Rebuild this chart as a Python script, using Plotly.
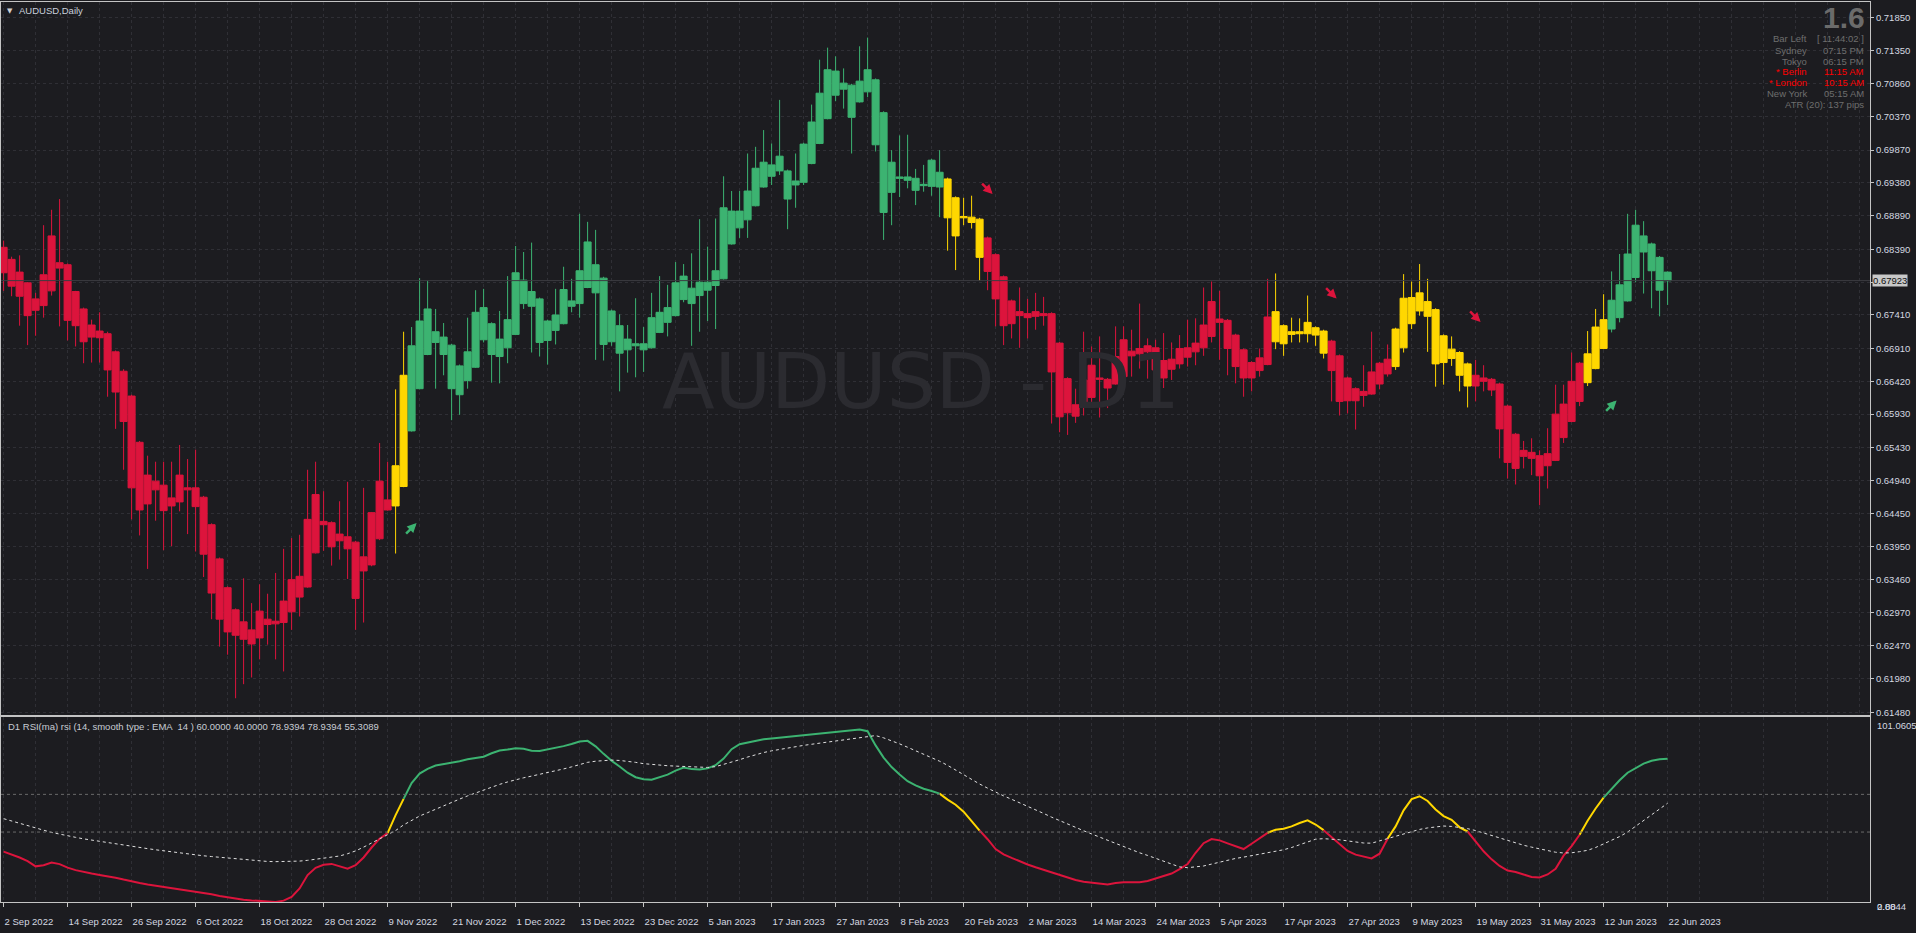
import plotly.graph_objects as go

# ---------------- data ----------------
open_ = [0.6842,0.6824,0.6805,0.6789,0.6748,0.6755,0.6777,0.6819,0.6816,0.6776,
 0.6750,0.6708,0.6717,0.6713,0.6686,0.6657,0.6620,0.6551,0.6459,0.6493,
 0.6487,0.6456,0.6462,0.6483,0.6483,0.6469,0.6428,0.6377,0.6334,0.6301,
 0.6257,0.6271,0.6259,0.6287,0.6280,0.6282,0.6298,0.6351,0.6335,0.6386,
 0.6433,0.6431,0.6404,0.6410,0.6402,0.6359,0.6368,0.6407,0.6465,0.6456,
 0.6485,0.6568,0.6631,0.6682,0.6716,0.6682,0.6696,0.6622,0.6686,0.6663,
 0.6704,0.6728,0.6679,0.6692,0.6712,0.6793,0.6754,0.6765,0.6703,0.6718,
 0.6728,0.6762,0.6758,0.6782,0.6816,0.6796,0.6701,0.6725,0.6689,0.6698,
 0.6689,0.6692,0.6715,0.6752,0.6740,0.6764,0.6781,0.6770,0.6790,0.6785,
 0.6795,0.6896,0.6871,0.6883,0.6904,0.6932,0.6965,0.6956,0.6956,0.6935,
 0.6939,0.6967,0.6997,0.7034,0.7105,0.7078,0.7084,0.7059,0.7074,0.7092,
 0.7043,0.6924,0.6947,0.6947,0.6945,0.6934,0.6933,0.6954,0.6944,0.6916,
 0.6886,0.6887,0.6884,0.6856,0.6831,0.6798,0.6728,0.6746,0.6743,0.6739,
 0.6743,0.6743,0.6699,0.6595,0.6607,0.6607,0.6618,0.6647,0.6645,0.6638,
 0.6649,0.6687,0.6683,0.6686,0.6692,0.6647,0.6660,0.6668,0.6678,0.6686,
 0.6692,0.6709,0.6735,0.6733,0.6711,0.6689,0.6647,0.6677,0.6667,0.6701,
 0.6725,0.6712,0.6716,0.6713,0.6722,0.6717,0.6702,0.6680,0.6613,0.6631,
 0.6621,0.6623,0.6638,0.6653,0.6664,0.6692,0.6767,0.6747,0.6761,0.6749,
 0.6670,0.6690,0.6685,0.6668,0.6635,0.6647,0.6645,0.6638,0.6605,0.6563,
 0.6530,0.6536,0.6531,0.6516,0.6524,0.6558,0.6582,0.6612,0.6640,0.6661,
 0.6691,0.6720,0.6737,0.6762,0.6797,0.6859,0.6847,0.6827,0.6805]

high = [0.6852,0.6828,0.6830,0.6790,0.6774,0.6875,0.6898,0.6914,0.6818,0.6777,
 0.6752,0.6734,0.6745,0.6716,0.6688,0.6660,0.6622,0.6553,0.6531,0.6522,
 0.6522,0.6522,0.6547,0.6526,0.6540,0.6471,0.6430,0.6379,0.6336,0.6303,
 0.6348,0.6311,0.6339,0.6325,0.6356,0.6392,0.6408,0.6413,0.6510,0.6522,
 0.6478,0.6433,0.6463,0.6492,0.6404,0.6483,0.6447,0.6550,0.6522,0.6630,
 0.6716,0.6723,0.6796,0.6792,0.6750,0.6729,0.6698,0.6667,0.6737,0.6778,
 0.6780,0.6730,0.6747,0.6799,0.6844,0.6835,0.6849,0.6767,0.6734,0.6780,
 0.6813,0.6795,0.6892,0.6880,0.6868,0.6798,0.6749,0.6742,0.6726,0.6766,
 0.6723,0.6774,0.6799,0.6786,0.6820,0.6817,0.6833,0.6884,0.6843,0.6885,
 0.6948,0.6926,0.6926,0.6982,0.6992,0.7017,0.6997,0.7062,0.6958,0.6982,
 0.6998,0.7055,0.7122,0.7140,0.7127,0.7109,0.7086,0.7142,0.7155,0.7094,
 0.7045,0.6987,0.7009,0.7010,0.6959,0.6965,0.6974,0.6987,0.6946,0.6918,
 0.6916,0.6919,0.6886,0.6858,0.6833,0.6800,0.6764,0.6782,0.6765,0.6774,
 0.6768,0.6745,0.6701,0.6648,0.6631,0.6716,0.6694,0.6709,0.6647,0.6724,
 0.6724,0.6719,0.6758,0.6706,0.6704,0.6714,0.6700,0.6711,0.6734,0.6736,
 0.6782,0.6791,0.6777,0.6735,0.6713,0.6691,0.6672,0.6691,0.6795,0.6803,
 0.6727,0.6737,0.6736,0.6770,0.6724,0.6719,0.6704,0.6682,0.6649,0.6633,
 0.6666,0.6716,0.6671,0.6697,0.6722,0.6802,0.6791,0.6817,0.6795,0.6751,
 0.6712,0.6709,0.6687,0.6670,0.6674,0.6666,0.6647,0.6640,0.6607,0.6565,
 0.6553,0.6557,0.6539,0.6572,0.6637,0.6637,0.6685,0.6671,0.6717,0.6750,
 0.6772,0.6806,0.6832,0.6892,0.6898,0.6881,0.6849,0.6829,0.6806]

low = [0.6777,0.6769,0.6725,0.6696,0.6710,0.6737,0.6770,0.6724,0.6703,0.6694,
 0.6669,0.6670,0.6670,0.6619,0.6571,0.6510,0.6436,0.6412,0.6362,0.6434,
 0.6390,0.6396,0.6448,0.6414,0.6388,0.6350,0.6287,0.6246,0.6234,0.6169,
 0.6190,0.6200,0.6227,0.6249,0.6227,0.6209,0.6271,0.6291,0.6334,0.6385,
 0.6389,0.6367,0.6376,0.6347,0.6271,0.6282,0.6366,0.6405,0.6449,0.6385,
 0.6484,0.6567,0.6630,0.6681,0.6631,0.6651,0.6584,0.6592,0.6631,0.6662,
 0.6700,0.6640,0.6639,0.6669,0.6711,0.6750,0.6685,0.6679,0.6667,0.6697,
 0.6727,0.6745,0.6737,0.6781,0.6674,0.6673,0.6695,0.6627,0.6655,0.6648,
 0.6656,0.6691,0.6714,0.6709,0.6739,0.6760,0.6695,0.6716,0.6732,0.6720,
 0.6794,0.6846,0.6856,0.6856,0.6903,0.6931,0.6935,0.6950,0.6869,0.6901,
 0.6935,0.6966,0.6996,0.7033,0.7060,0.7049,0.6982,0.7058,0.7066,0.6985,
 0.6853,0.6875,0.6917,0.6930,0.6905,0.6925,0.6919,0.6887,0.6837,0.6808,
 0.6875,0.6870,0.6792,0.6778,0.6724,0.6696,0.6706,0.6692,0.6706,0.6719,
 0.6725,0.6579,0.6566,0.6562,0.6580,0.6591,0.6605,0.6588,0.6602,0.6637,
 0.6640,0.6649,0.6661,0.6646,0.6650,0.6632,0.6644,0.6661,0.6664,0.6666,
 0.6680,0.6700,0.6674,0.6651,0.6639,0.6619,0.6627,0.6649,0.6666,0.6690,
 0.6680,0.6700,0.6700,0.6700,0.6695,0.6676,0.6612,0.6591,0.6594,0.6570,
 0.6604,0.6622,0.6630,0.6649,0.6659,0.6685,0.6720,0.6740,0.6686,0.6634,
 0.6637,0.6665,0.6627,0.6603,0.6612,0.6627,0.6620,0.6527,0.6497,0.6488,
 0.6512,0.6502,0.6457,0.6482,0.6523,0.6550,0.6581,0.6605,0.6635,0.6660,
 0.6690,0.6715,0.6730,0.6761,0.6790,0.6773,0.6751,0.6739,0.6756]

close = [0.6804,0.6784,0.6769,0.6740,0.6765,0.6801,0.6859,0.6811,0.6733,0.6725,
 0.6701,0.6726,0.6707,0.6659,0.6626,0.6582,0.6483,0.6450,0.6502,0.6480,
 0.6449,0.6468,0.6502,0.6480,0.6455,0.6384,0.6326,0.6287,0.6268,0.6263,
 0.6283,0.6250,0.6299,0.6279,0.6284,0.6314,0.6346,0.6320,0.6436,0.6473,
 0.6428,0.6395,0.6414,0.6392,0.6318,0.6380,0.6446,0.6493,0.6450,0.6516,
 0.6651,0.6695,0.6732,0.6750,0.6700,0.6708,0.6631,0.6665,0.6643,0.6745,
 0.6752,0.6682,0.6705,0.6734,0.6804,0.6758,0.6776,0.6700,0.6732,0.6741,
 0.6779,0.6754,0.6807,0.6850,0.6774,0.6697,0.6747,0.6684,0.6705,0.6695,
 0.6698,0.6737,0.6745,0.6730,0.6789,0.6799,0.6758,0.6790,0.6778,0.6807,
 0.6901,0.6847,0.6896,0.6926,0.6960,0.6969,0.6948,0.6978,0.6914,0.6941,
 0.6996,0.7029,0.7072,0.7107,0.7069,0.7087,0.7036,0.7090,0.7107,0.6995,
 0.6894,0.6969,0.6945,0.6942,0.6927,0.6936,0.6972,0.6932,0.6886,0.6859,
 0.6888,0.6879,0.6827,0.6806,0.6765,0.6725,0.6762,0.6740,0.6737,0.6746,
 0.6740,0.6656,0.6589,0.6646,0.6590,0.6644,0.6666,0.6645,0.6632,0.6679,
 0.6704,0.6680,0.6691,0.6695,0.6659,0.6673,0.6675,0.6691,0.6692,0.6699,
 0.6726,0.6761,0.6730,0.6691,0.6664,0.6647,0.6670,0.6658,0.6738,0.6746,
 0.6698,0.6716,0.6713,0.6730,0.6711,0.6684,0.6658,0.6612,0.6647,0.6613,
 0.6627,0.6656,0.6669,0.6675,0.6720,0.6766,0.6728,0.6774,0.6739,0.6668,
 0.6710,0.6676,0.6651,0.6635,0.6651,0.6642,0.6629,0.6571,0.6521,0.6512,
 0.6539,0.6527,0.6501,0.6534,0.6593,0.6608,0.6642,0.6669,0.6683,0.6723,
 0.6734,0.6763,0.6786,0.6832,0.6875,0.6835,0.6807,0.6778,0.6792]

rsi = [29.6,28.2,26.5,24.6,21.8,22.4,23.8,23.0,21.1,19.8,
 18.7,18.0,17.2,16.7,15.8,14.8,13.7,13.0,12.2,11.6,
 11.0,10.3,9.8,9.2,8.4,7.8,7.0,6.1,5.3,4.6,
 4.1,3.7,3.4,3.1,2.9,3.6,5.6,10.1,17.2,21.0,
 22.6,23.1,22.0,20.6,22.4,26.5,31.8,36.5,39.4,49.0,
 57.6,66.0,71.0,73.5,75.3,76.0,76.6,77.6,78.6,79.2,
 80.0,81.8,83.3,83.8,84.5,84.2,83.2,83.0,83.8,84.7,
 85.6,86.7,88.0,88.4,85.5,81.5,77.8,74.8,71.5,69.1,
 68.0,67.8,69.0,70.5,72.6,74.2,73.4,73.2,73.8,75.5,
 79.0,84.0,86.6,87.6,88.4,89.2,89.6,90.0,90.5,90.9,
 91.3,91.8,92.2,92.6,93.1,93.5,93.9,94.4,93.5,86.0,
 79.5,74.5,70.5,67.0,64.8,63.0,61.8,60.4,57.2,54.5,
 50.8,45.8,40.8,36.2,31.0,28.2,26.3,24.4,22.8,21.3,
 19.9,18.5,17.4,16.0,14.6,13.6,13.0,12.4,12.2,13.0,
 13.4,13.4,13.4,14.0,15.2,16.5,18.0,20.3,23.0,29.0,
 34.1,36.3,35.6,34.0,32.3,31.0,33.8,36.5,39.6,41.2,
 41.8,43.0,44.8,46.2,44.0,41.0,37.5,33.8,30.0,28.0,
 26.8,26.0,28.5,36.5,43.0,51.5,57.5,59.0,56.5,52.0,
 48.5,46.5,42.5,40.3,35.0,29.8,25.5,22.0,19.6,18.8,
 17.5,16.2,15.9,17.5,20.5,27.5,32.5,38.6,46.0,52.5,
 58.3,63.0,67.5,71.5,74.0,76.3,77.8,78.6,78.94]

signal = [47.1,45.8,44.5,43.3,42.1,41.0,39.8,38.8,38.0,37.2,
 36.4,35.7,35.0,34.3,33.6,33.0,32.4,31.8,31.2,30.6,
 30.0,29.4,28.9,28.4,27.9,27.4,27.0,26.6,26.2,25.8,
 25.5,25.1,24.7,24.4,24.3,24.3,24.4,24.6,25.0,25.5,
 26.0,26.6,27.3,28.5,30.0,32.0,34.2,36.3,38.3,40.8,
 43.8,46.3,48.5,50.3,52.2,54.0,55.8,57.5,59.2,60.8,
 62.4,63.9,65.3,66.6,67.8,68.8,69.7,70.6,71.5,72.5,
 73.5,74.6,75.8,77.0,77.6,78.0,78.2,78.0,77.6,77.0,
 76.3,75.8,75.5,75.2,75.0,74.8,74.5,74.3,74.3,74.7,
 75.8,77.0,78.4,79.8,81.2,82.2,83.1,83.9,84.7,85.4,
 86.0,86.6,87.2,87.8,88.4,89.0,89.6,90.3,91.0,91.2,
 90.0,88.5,86.8,85.0,83.2,81.3,79.5,77.6,75.4,72.9,
 70.4,67.8,65.5,63.3,61.1,59.2,57.4,55.6,53.7,51.9,
 49.9,47.9,46.0,44.2,42.4,40.7,39.0,37.3,35.6,33.8,
 32.1,30.5,29.0,27.6,26.0,24.4,22.8,21.5,21.1,21.4,
 22.0,23.0,24.1,25.2,26.0,26.7,27.4,28.2,29.0,29.7,
 30.6,31.8,33.2,34.6,36.2,36.5,36.3,35.9,35.3,34.7,
 34.2,34.1,35.3,36.6,37.7,39.3,40.4,41.4,42.2,42.9,
 43.2,43.0,42.5,41.8,40.8,39.5,38.1,36.8,35.4,34.1,
 33.0,32.0,31.0,30.1,29.3,28.9,29.0,29.6,30.3,31.8,
 33.6,35.5,37.6,40.0,43.0,46.2,49.3,52.4,55.3]

date_labels = ["2 Sep 2022","14 Sep 2022","26 Sep 2022","6 Oct 2022","18 Oct 2022",
 "28 Oct 2022","9 Nov 2022","21 Nov 2022","1 Dec 2022","13 Dec 2022","23 Dec 2022",
 "5 Jan 2023","17 Jan 2023","27 Jan 2023","8 Feb 2023","20 Feb 2023","2 Mar 2023",
 "14 Mar 2023","24 Mar 2023","5 Apr 2023","17 Apr 2023","27 Apr 2023","9 May 2023",
 "19 May 2023","31 May 2023","12 Jun 2023","22 Jun 2023"]

price_ticks = [0.61480,0.61980,0.62470,0.62970,0.63460,0.63950,0.64450,0.64940,
 0.65430,0.65930,0.66420,0.66910,0.67410,0.67900,0.68390,0.68890,0.69380,
 0.69870,0.70370,0.70860,0.71350,0.71850]
current_price = 0.67923

arrow_bar = [51, 123, 166, 184, 201]
arrow_price = [0.6423, 0.6929, 0.6773, 0.6738, 0.6606]
arrow_dir = ["up", "down", "down", "down", "up"]

rsi_levels = [60.0, 40.0]
rsi_min, rsi_max = 2.8844, 101.0605

info_rows = [("Bar Left", "[ 11:44:02 ]", False), ("Sydney", "07:15 PM", False),
             ("Tokyo", "06:15 PM", False), ("* Berlin", "11:15 AM", True),
             ("* London", "10:15 AM", True), ("New York", "05:15 AM", False)]
atr_text = "ATR (20): 137 pips"
spread_text = "1.6"
header_text = "D1 RSI(ma) rsi (14, smooth type : EMA  14 ) 60.0000 40.0000 78.9394 78.9394 55.3089"

# ---------------- styling ----------------
BG = "#1c1c20"
GREEN = "#3cb371"
YELLOW = "#ffd700"
RED = "#dc143c"
GRID = "#2f2f35"
FRAME = "#c4c4c4"
TXT = "#d4d8e0"
FONT = "Liberation Sans"

W, H = 1916, 933
ML, MR, MT, MB = 1, 46, 2, 31
PW, PH = W - ML - MR, H - MT - MB


def pxx(xp):
    return (xp - ML) / PW


def pxy(yp):
    return (MT + PH - yp) / PH


n = len(close)


def zone(v):
    if v > 60:
        return "g"
    if v < 40:
        return "r"
    return "y"


zones = [zone(v) for v in rsi]
zcol = {"g": GREEN, "y": YELLOW, "r": RED}

fig = go.Figure()

# candles, one trace per colour zone
for z in ["r", "y", "g"]:
    idx = [i for i in range(n) if zones[i] == z]
    col = zcol[z]
    fig.add_trace(go.Candlestick(
        x=idx, open=[open_[i] for i in idx], high=[high[i] for i in idx],
        low=[low[i] for i in idx], close=[close[i] for i in idx],
        increasing=dict(line=dict(color=col, width=1), fillcolor=col),
        decreasing=dict(line=dict(color=col, width=1), fillcolor=col),
        whiskerwidth=0, xaxis="x", yaxis="y", showlegend=False, hoverinfo="skip"))

# RSI coloured runs
runs = []
cur, start = zones[0], 0
for i in range(1, n):
    if zones[i] != cur:
        runs.append((cur, start, i - 1))
        cur, start = zones[i], i
runs.append((cur, start, n - 1))
for z, s, e in runs:
    s0 = max(s - 1, 0)
    fig.add_trace(go.Scatter(
        x=list(range(s0, e + 1)), y=rsi[s0:e + 1], mode="lines",
        line=dict(color=zcol[z], width=2), xaxis="x2", yaxis="y2",
        showlegend=False, hoverinfo="skip"))

fig.add_trace(go.Scatter(
    x=list(range(n)), y=signal, mode="lines",
    line=dict(color="#e0e0e0", width=1, dash="dot"), xaxis="x2", yaxis="y2",
    showlegend=False, hoverinfo="skip"))

x0 = -3.6 / 8 + 0.125
x1 = x0 + PW / 8.0
label_pos = list(range(0, 8 * len(date_labels), 8))
grid4 = list(range(0, int(x1) + 1, 4))
minor4 = [v for v in grid4 if v % 8 != 0]

ytext = ["%.5f" % v for v in price_ticks]
ytext[price_ticks.index(0.67900)] = ""

fig.update_layout(
    width=W, height=H, paper_bgcolor=BG, plot_bgcolor=BG,
    margin=dict(l=ML, r=MR, t=MT, b=MB, pad=0),
    font=dict(family=FONT, size=10, color=TXT),
    boxgap=0.12, boxgroupgap=0, showlegend=False,
    xaxis=dict(domain=[0, 1], anchor="y", range=[x0, x1], tickvals=grid4,
               showticklabels=False, ticks="", showgrid=True, gridcolor=GRID,
               griddash="3px,3px", gridwidth=1, zeroline=False, showline=True,
               mirror=True, linecolor=FRAME, linewidth=1,
               rangeslider=dict(visible=False), automargin=False),
    xaxis2=dict(domain=[0, 1], anchor="y2", range=[x0, x1], matches="x",
                tickmode="array", tickvals=label_pos, ticktext=date_labels,
                ticklabelposition="outside right", ticks="outside", ticklen=4,
                ticklabelstandoff=11,
                tickcolor=FRAME, tickfont=dict(family=FONT, size=9.5, color=TXT),
                showgrid=True, gridcolor=GRID, griddash="3px,3px",
                minor=dict(tickmode="array", tickvals=minor4, showgrid=True,
                           gridcolor=GRID, griddash="3px,3px", ticks=""),
                zeroline=False, showline=True, mirror=True, linecolor=FRAME,
                linewidth=1, rangeslider=dict(visible=False), automargin=False),
    yaxis=dict(domain=[pxy(715), 1], anchor="x", side="right",
               range=[0.6144, 0.72081], tickmode="array", tickvals=price_ticks,
               ticktext=ytext, ticks="outside", ticklen=3, tickcolor=FRAME,
               tickfont=dict(family=FONT, size=9.5, color=TXT),
               showgrid=True, gridcolor=GRID, griddash="3px,3px",
               zeroline=False, showline=True, mirror=True, linecolor=FRAME,
               linewidth=1, automargin=False),
    yaxis2=dict(domain=[0, pxy(717)], anchor="x2", side="right",
                range=[rsi_min, rsi_max], showticklabels=False, ticks="",
                showgrid=False, zeroline=False, showline=True, mirror=True,
                linecolor=FRAME, linewidth=1, automargin=False),
)

shapes = []
for lv in rsi_levels:
    shapes.append(dict(type="line", xref="x2 domain", yref="y2", x0=0, x1=1,
                       y0=lv, y1=lv, line=dict(color="#6a6a6a", width=1, dash="3px,3px")))
shapes.append(dict(type="line", xref="x domain", yref="y", x0=0, x1=1,
                   y0=current_price, y1=current_price,
                   line=dict(color="#3c3c42", width=1)))
fig.update_layout(shapes=shapes)

ann = []
# watermark
ann.append(dict(text="AUDUSD - D1", xref="paper", yref="paper", x=pxx(921), y=pxy(381),
                xanchor="center", yanchor="middle", showarrow=False,
                font=dict(family="DejaVu Sans", size=77, color="#2b2b30")))
# signal arrows (thick diagonal arrows centred on the signal point)
for b, p, d in zip(arrow_bar, arrow_price, arrow_dir):
    up = d == "up"
    ann.append(dict(text="", x=b, y=p, xref="x", yref="y", showarrow=True,
                    arrowhead=2, arrowsize=0.75, arrowwidth=2.5,
                    arrowcolor=GREEN if up else RED,
                    ax=-12, ay=12 if up else -12, xshift=5,
                    yshift=5 if up else -5, standoff=0, startstandoff=0))
# title
ann.append(dict(text="\u25bc", xref="paper", yref="paper", x=pxx(5), y=pxy(10.5),
                xanchor="left", yanchor="middle", showarrow=False,
                font=dict(family="DejaVu Sans", size=7, color="#d0d0d0")))
ann.append(dict(text="AUDUSD,Daily", xref="paper", yref="paper", x=pxx(17), y=pxy(10.5),
                xanchor="left", yanchor="middle", showarrow=False,
                font=dict(family=FONT, size=9.5, color="#c8d0dc")))
# info panel
ann.append(dict(text="<b>%s</b>" % spread_text, xref="paper", yref="paper", x=pxx(1866),
                y=pxy(17.5), xanchor="right", yanchor="middle", showarrow=False,
                borderpad=0, font=dict(family=FONT, size=30, color="#6b6b6b")))
row_y = [39, 50, 61, 71.7, 82.7, 93.3]
for (lab, val, hot), yy in zip(info_rows, row_y):
    col = "#ff0000" if hot else "#6e6e6e"
    ann.append(dict(text=lab, xref="paper", yref="paper", x=pxx(1809), y=pxy(yy),
                    xanchor="right", yanchor="middle", showarrow=False,
                    font=dict(family=FONT, size=9.5, color=col)))
    ann.append(dict(text=val, xref="paper", yref="paper", x=pxx(1866), y=pxy(yy),
                    xanchor="right", yanchor="middle", showarrow=False,
                    font=dict(family=FONT, size=9.5, color=col)))
ann.append(dict(text=atr_text, xref="paper", yref="paper", x=pxx(1866), y=pxy(104.5),
                xanchor="right", yanchor="middle", showarrow=False,
                font=dict(family=FONT, size=9.5, color="#6e6e6e")))
# current price box
ann.append(dict(text="%.5f" % current_price, xref="paper", yref="y", x=pxx(1872),
                y=current_price, xanchor="left", yanchor="middle", showarrow=False,
                bgcolor="#c8c8c8", borderpad=0,
                font=dict(family=FONT, size=9.5, color="#101010")))
# indicator header and scale labels
ann.append(dict(text=header_text, xref="paper", yref="paper", x=pxx(6), y=pxy(726),
                xanchor="left", yanchor="middle", showarrow=False,
                font=dict(family=FONT, size=9.5, color="#c8ccd4")))
ann.append(dict(text="%.4f" % rsi_max, xref="paper", yref="paper", x=pxx(1875), y=pxy(725),
                xanchor="left", yanchor="middle", showarrow=False,
                font=dict(family=FONT, size=9.5, color=TXT)))
ann.append(dict(text="%.4f" % rsi_min, xref="paper", yref="paper", x=pxx(1875), y=pxy(906),
                xanchor="left", yanchor="middle", showarrow=False,
                font=dict(family=FONT, size=9.5, color=TXT)))
ann.append(dict(text="0.00", xref="paper", yref="paper", x=pxx(1875), y=pxy(906),
                xanchor="left", yanchor="middle", showarrow=False,
                font=dict(family=FONT, size=9.5, color=TXT)))
fig.update_layout(annotations=ann)

fig.write_html("out.html", config={"displayModeBar": False},
               post_script="document.body.style.margin='0';document.body.style.overflow='hidden';")
